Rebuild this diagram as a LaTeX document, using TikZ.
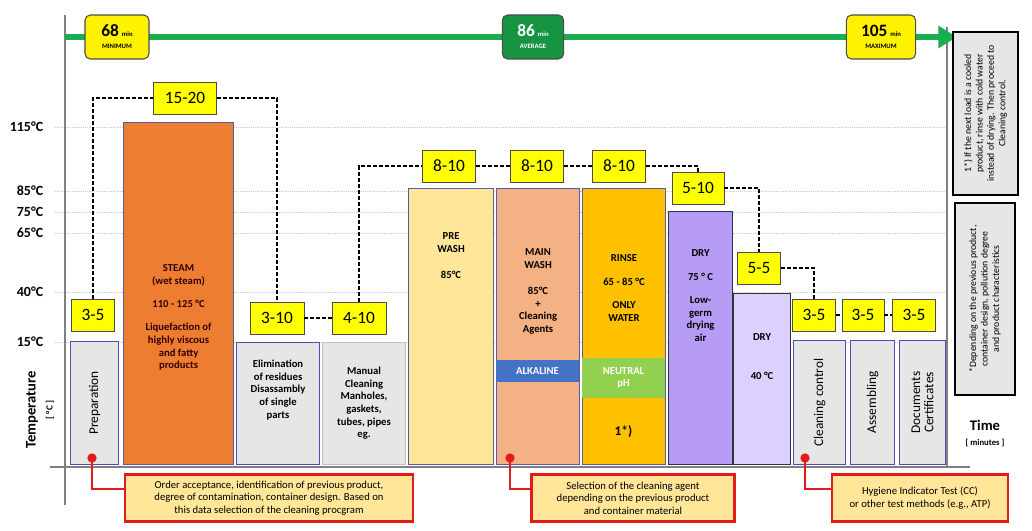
\documentclass[tikz,border=0pt]{standalone}
\usepackage{fontspec}
\setmainfont{Carlito}
\usetikzlibrary{arrows.meta,positioning}
\definecolor{durfill}{HTML}{FFFF00}
\definecolor{steamc}{HTML}{ED7D31}
\definecolor{prec}{HTML}{FFE699}
\definecolor{mainc}{HTML}{F4B183}
\definecolor{rinsec}{HTML}{FFC000}
\definecolor{dryc}{HTML}{B69CF4}
\definecolor{dryl}{HTML}{DCD0FF}
\definecolor{greyc}{HTML}{E7E6E6}
\definecolor{alkc}{HTML}{4472C4}
\definecolor{neuc}{HTML}{92D050}
\definecolor{arrowc}{HTML}{1AAE4E}
\definecolor{redc}{HTML}{E41B1B}
\tikzset{
  w/.style={minimum width=#1*0.75pt},
  h/.style={minimum height=#1*0.75pt},
  stage/.style={draw=gray!70!blue, line width=0.8pt, anchor=south west, inner sep=1pt,
    align=center, font=\fontsize{8}{9.5}\selectfont\bfseries},
  task/.style={stage, fill=greyc, draw=blue!40!gray},
  dur/.style={draw=gray!60!black, fill=durfill, minimum width=39pt, minimum height=24pt,
    inner sep=0pt, font=\fontsize{13}{13}\selectfont},
  link/.style={dashed, line width=1.4pt, dash pattern=on 3pt off 1.5pt},
  badge/.style={draw=black!70, rounded corners=4pt, line width=0.8pt, align=center,
    minimum height=33pt, inner sep=2pt},
  note/.style={draw=redc, line width=2.2pt, fill=prec, align=center,
    font=\fontsize{8}{9.5}\selectfont},
  temp/.style={anchor=east, font=\fontsize{10.5}{11}\selectfont\bfseries},
  side/.style={draw=black, line width=1.8pt, fill=greyc},
  sidetext/.style={rotate=90, align=center, font=\fontsize{7.3}{8.6}\selectfont},
}
\begin{document}
\begin{tikzpicture}[x=0.75pt,y=-0.75pt]
\useasboundingbox (0,0) rectangle (1032,531);
% grid and axes
\foreach \t/\y in {115/127,85/191,75/212,65/233,40/292,15/342} {
  \draw[gray!40, densely dotted] (55,\y) -- (945,\y);
  \node[temp] at (48,\y) {\t°C};
}
\draw[gray, line width=2.2pt] (65,15) -- (65,505);
\draw[gray, line width=2.2pt] (50,467) -- (970,467);
\draw[gray, line width=1.5pt] (947,27) -- (947,467);
\node[rotate=90, font=\fontsize{11}{11}\selectfont\bfseries] (templbl) at (32,410) {Temperature};
\node[rotate=90, font=\fontsize{7}{7}\selectfont\bfseries] (unitlbl) at (50,410) {[ °C ]};
% time arrow
\draw[arrowc, line width=4.5pt, -{Triangle[length=14pt,width=16pt]}] (65,37) -- (957,37);
\node[badge, fill=yellow, minimum width=48pt] (tmin) at (117,37)
  {{\fontsize{13}{13}\selectfont\bfseries 68} {\fontsize{5}{5}\selectfont\bfseries min}\\[-3pt]{\fontsize{5}{5}\selectfont\bfseries MINIMUM}};
\node[badge, fill=arrowc!85!black, text=white, minimum width=46pt] (tavg) at (533,37)
  {{\fontsize{13}{13}\selectfont\bfseries 86} {\fontsize{5}{5}\selectfont\bfseries min}\\[-3pt]{\fontsize{5}{5}\selectfont\bfseries AVERAGE}};
\node[badge, fill=yellow, minimum width=52pt] (tmax) at (881,37)
  {{\fontsize{13}{13}\selectfont\bfseries 105} {\fontsize{5}{5}\selectfont\bfseries min}\\[-3pt]{\fontsize{5}{5}\selectfont\bfseries MAXIMUM}};
% stages
\node[task, w=48, h=123] (prep) at (70,465) {\rotatebox{90}{\fontsize{10}{10}\selectfont\mdseries Preparation}};
\node[stage, fill=steamc, w=110, h=342, text=black!80!red] (steam) at (123,465)
  {\mbox{}\\[32pt]STEAM\\(wet steam)\\[8pt]110 - 125 °C\\[8pt]Liquefaction of\\highly viscous\\and fatty\\products};
\node[task, w=83, h=122] (elim) at (236,465) {Elimination\\of residues\\Disassambly\\of single\\parts\\[12pt]};
\node[task, w=83, h=122, draw=gray!50] (manual) at (322,465) {Manual\\Cleaning\\Manholes,\\gaskets,\\tubes, pipes\\eg.};
\node[stage, fill=prec, w=85, h=276] (prew) at (408,465) {PRE\\WASH\\[10pt]85°C\\[97pt]};
\node[stage, fill=mainc, w=83, h=276] (mainw) at (496,465) {MAIN\\WASH\\[10pt]85°C\\+\\Cleaning\\Agents\\[44pt]};
\node[stage, fill=rinsec, w=83, h=276] (rinse) at (582,465) {RINSE\\[8pt]65 - 85 °C\\[8pt]ONLY\\WATER\\[48pt]};
\node[stage, fill=dryc, w=64, h=253, draw=black!80] (dryhot) at (668,465) {DRY\\[8pt]75 ° C\\[8pt]Low-\\germ\\drying\\air\\[54pt]};
\node[stage, fill=dryl, w=57, h=171, draw=black!80] (drycold) at (733,465) {DRY\\[20pt]40 °C\\[24pt]};
\node[task, w=52, h=124] (check) at (793,465) {\rotatebox{90}{\fontsize{10}{10}\selectfont\mdseries Cleaning control}};
\node[task, w=44, h=124] (assem) at (850,465) {\rotatebox{90}{\fontsize{10}{10}\selectfont\mdseries Assembling}};
\node[task, w=46, h=124] (docs) at (899,465) {\rotatebox{90}{\parbox{60pt}{\centering\fontsize{10}{10}\selectfont\mdseries Documents\\Certificates}}};
\node[fill=alkc, text=white, w=83, h=22, inner sep=0pt, font=\fontsize{8}{8}\selectfont\bfseries] (alk) at (537.5,371) {ALKALINE};
\node[fill=neuc, text=white, w=83, h=40, inner sep=0pt, align=center, font=\fontsize{8}{9}\selectfont\bfseries] (neu) at (623.5,378) {NEUTRAL\\pH};
\node[font=\fontsize{10}{10}\selectfont\bfseries] (fn) at (623.5,432) {1*)};
% durations
\node[dur, w=43] (p1) at (93,315) {3-5};
\node[dur, w=63] (p2) at (185,98) {15-20};
\node[dur, w=54] (p3) at (277,318) {3-10};
\node[dur, w=54] (p4) at (359,318) {4-10};
\node[dur, w=53] (p5) at (449,166) {8-10};
\node[dur, w=53] (p6) at (537,166) {8-10};
\node[dur, w=53] (p7) at (619,166) {8-10};
\node[dur, w=52] (p8) at (698,188) {5-10};
\node[dur, w=43] (p9) at (759,268) {5-5};
\node[dur, w=43] (p10) at (814,315) {3-5};
\node[dur, w=42] (p11) at (863,315) {3-5};
\node[dur, w=43] (p12) at (914,315) {3-5};
\draw[link] (p1.north) |- (p2.west);
\draw[link] (p2.east) -| (p3.north);
\draw[link] (p3) -- (p4);
\draw[link] (p4.north) |- (p5.west);
\draw[link] (p5) -- (p6);
\draw[link] (p6) -- (p7);
\draw[link] (p7.east) -| (p8.north);
\draw[link] (p8.east) -| (p9.north);
\draw[link] (p9.east) -| (p10.north);
\draw[link] (p10) -- (p11);
\draw[link] (p11) -- (p12);
% notes
\node[note, w=288, h=47] (n1) at (269,498) {Order acceptance, identification of previous product,\\degree of contamination, container design. Based on\\this data selection of the cleaning procgram};
\node[note, w=203, h=47] (n2) at (633,498) {Selection of the cleaning agent\\depending on the previous product\\and container material};
\node[note, w=176, h=47] (n3) at (920,498) {Hygiene Indicator Test (CC)\\or other test methods (e.g., ATP)};
\foreach \d/\x/\n in {d1/92/n1,d2/510/n2,d3/805/n3} {
  \fill[redc] (\x,458) circle (3.5pt) coordinate (\d);
  \draw[redc, line width=1.5pt] (\d) |- ([yshift=7pt]\n.west);
}
% side remarks
\node[side, w=65, h=163] (r1) at (985.5,113.5) {};
\node[sidetext] at (r1) {1*) If the next load is a cooled\\product, rinse with cold water\\instead of drying. Then proceed to\\Cleaning control.};
\node[side, w=60, h=192] (r2) at (985,299) {};
\node[sidetext] at (r2) {*Depending on the previous product,\\container design, pollution degree\\and product characteristics};
\node[font=\fontsize{11}{11}\selectfont\bfseries] (timelbl) at (985,425) {Time};
\node[font=\fontsize{6.5}{7}\selectfont\bfseries, below=0pt of timelbl] (minlbl) {[ minutes ]};
\end{tikzpicture}
\end{document}
